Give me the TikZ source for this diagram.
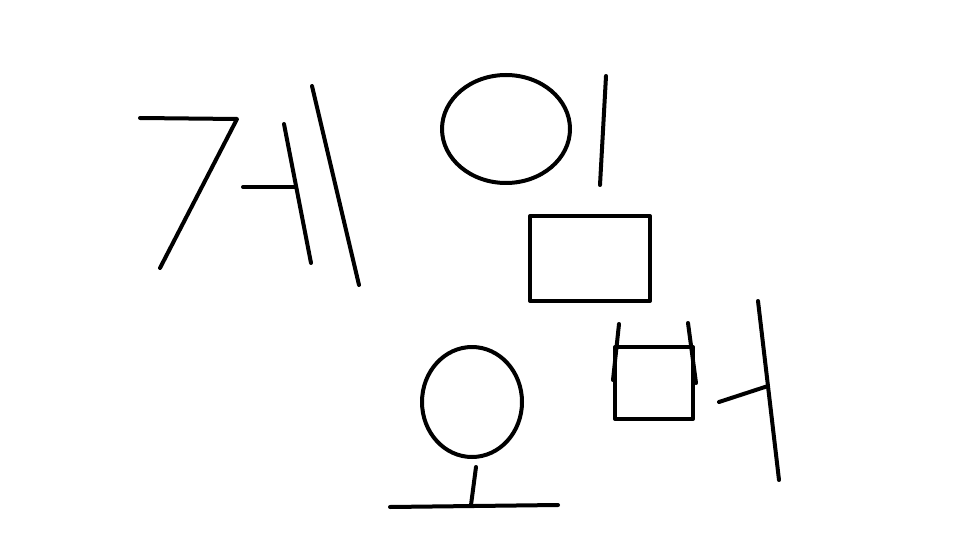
\documentclass[tikz,border=0pt]{standalone}
\begin{document}
\begin{tikzpicture}[x=1pt,y=-1pt,
		pen/.style={line width=4pt, line cap=round, line join=round, black}]
		% page
		\useasboundingbox (0,0) rectangle (960,540);
		
		% first syllable
		\draw[pen] (140,118) -- (237,119) -- (160,268);
		\draw[pen] (243,187) -- (296,187);
		\draw[pen] (284,124) -- (311,263);
		\draw[pen] (312,86) -- (359,285);
		
		% second syllable
		\draw[pen] (506,129) ellipse [x radius=64, y radius=54];
		\draw[pen] (606,76) -- (600,185);
		
		% third syllable
		\draw[pen] (530,216) rectangle (650,301);
		\draw[pen] (619,324) -- (613,380);
		\draw[pen] (688,323) -- (696,383);
		\draw[pen] (615,347) rectangle (693,419);
		
		% fourth syllable
		\draw[pen] (472,402) ellipse [x radius=50, y radius=55];
		\draw[pen] (476,467) -- (471,505);
		\draw[pen] (390,507) -- (558,505);
		
		% fifth syllable
		\draw[pen] (758,301) -- (779,480);
		\draw[pen] (719,402) -- (768,386);
		
	\end{tikzpicture}
\end{document}
